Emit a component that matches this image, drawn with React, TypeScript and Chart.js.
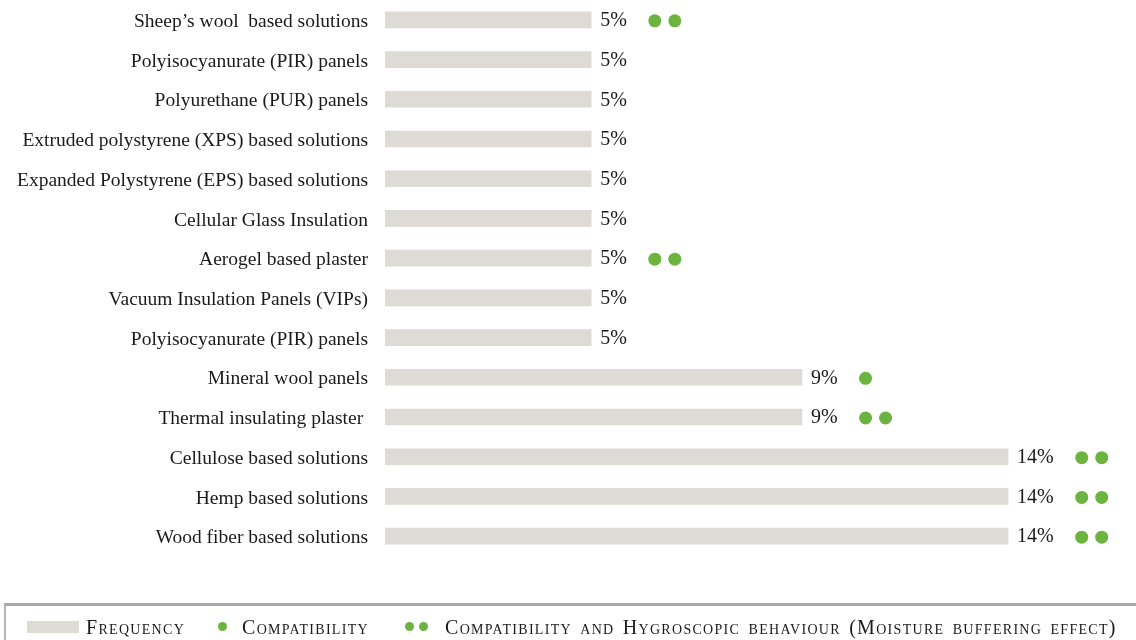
import React, { useEffect, useRef } from "react";
import { Chart, registerables } from "chart.js";

Chart.register(...registerables);

const categories = [
  "Sheep’s wool  based solutions",
  "Polyisocyanurate (PIR) panels",
  "Polyurethane (PUR) panels",
  "Extruded polystyrene (XPS) based solutions",
  "Expanded Polystyrene (EPS) based solutions",
  "Cellular Glass Insulation",
  "Aerogel based plaster",
  "Vacuum Insulation Panels (VIPs)",
  "Polyisocyanurate (PIR) panels",
  "Mineral wool panels",
  "Thermal insulating plaster ",
  "Cellulose based solutions",
  "Hemp based solutions",
  "Wood fiber based solutions",
];

const frequency = [4.5, 4.5, 4.5, 4.5, 4.5, 4.5, 4.5, 4.5, 4.5, 9.1, 9.1, 13.6, 13.6, 13.6];
const percentLabels = ["5%", "5%", "5%", "5%", "5%", "5%", "5%", "5%", "5%", "9%", "9%", "14%", "14%", "14%"];
// 0 = none, 1 = compatibility, 2 = compatibility and hygroscopic behaviour
const compatDots = [2, 0, 0, 0, 0, 0, 2, 0, 0, 1, 2, 2, 2, 2];

const legendFrequency = "Frequency";
const legendCompat = "Compatibility";
const legendHygro = "Compatibility and Hygroscopic behaviour (Moisture buffering effect)";

const BAR_COLOR = "#dedad5";
const DOT_COLOR = "#6cb33f";
const TEXT_COLOR = "#1a1a1a";
const SERIF = "'Liberation Serif', 'Times New Roman', serif";

const valuePlugin = {
  id: "valueDots",
  afterDatasetsDraw(chart: any) {
    const ctx = chart.ctx;
    const meta = chart.getDatasetMeta(0);
    ctx.save();
    ctx.font = `20px ${SERIF}`;
    ctx.textBaseline = "middle";
    ctx.textAlign = "left";
    meta.data.forEach((el: any, i: number) => {
      const x = el.x;
      const y = el.y;
      const label = percentLabels[i];
      ctx.fillStyle = TEXT_COLOR;
      ctx.fillText(label, x + 9, y + 1);
      const w = ctx.measureText(label).width;
      const n = compatDots[i];
      ctx.fillStyle = DOT_COLOR;
      for (let k = 0; k < n; k++) {
        ctx.beginPath();
        ctx.arc(x + 9 + w + 28 + k * 20, y + 1, 6.5, 0, Math.PI * 2);
        ctx.fill();
      }
    });
    ctx.restore();
  },
};

export default function App() {
  const ref = useRef<HTMLCanvasElement | null>(null);

  useEffect(() => {
    if (!ref.current) return;
    const chart = new Chart(ref.current, {
      type: "bar",
      data: {
        labels: categories,
        datasets: [
          {
            label: legendFrequency,
            data: frequency,
            backgroundColor: BAR_COLOR,
            borderWidth: 0,
            barThickness: 16,
          },
        ],
      },
      options: {
        indexAxis: "y",
        responsive: false,
        animation: false,
        layout: { padding: { left: 0, right: 18, top: 0, bottom: 84 } },
        plugins: {
          legend: { display: false },
          tooltip: { enabled: false },
        },
        scales: {
          x: { display: false, min: 0, max: 16 },
          y: {
            grid: { display: false, drawTicks: false },
            border: { display: false },
            ticks: {
              color: TEXT_COLOR,
              padding: 17,
              labelOffset: 2,
              font: { family: SERIF, size: 19.5 },
            },
            afterFit: (s: any) => {
              s.width = 385;
              s.paddingTop = 0;
              s.paddingBottom = 0;
            },
          },
        },
      } as any,
      plugins: [valuePlugin],
    });
    return () => chart.destroy();
  }, []);

  const textStyle: React.CSSProperties = {
    position: "absolute",
    top: 9,
    fontFamily: SERIF,
    fontSize: 20,
    fontVariant: "small-caps",
    letterSpacing: "1.3px",
    color: TEXT_COLOR,
    lineHeight: "24px",
    whiteSpace: "nowrap",
  };
  const dot = (left: number): React.CSSProperties => ({
    position: "absolute",
    left: left - 4.5,
    top: 16,
    width: 9,
    height: 9,
    borderRadius: "50%",
    background: DOT_COLOR,
  });

  return (
    <div style={{ position: "fixed", left: 0, top: 0, width: 1136, height: 640, background: "#fff", overflow: "hidden" }}>
      <canvas ref={ref} width={1136} height={640} style={{ position: "absolute", left: 0, top: 0 }} />
      <div
        style={{
          position: "absolute",
          left: 4,
          top: 603,
          width: 1140,
          height: 40,
          borderTop: "3px solid #a9a9a9",
          borderLeft: "2px solid #b5b5b5",
          boxSizing: "border-box",
        }}
      >
        <div style={{ position: "absolute", left: 21, top: 15, width: 52, height: 12, background: BAR_COLOR }} />
        <span style={{ ...textStyle, left: 80 }}>{legendFrequency}</span>
        <div style={dot(216)} />
        <span style={{ ...textStyle, left: 236 }}>{legendCompat}</span>
        <div style={dot(403)} />
        <div style={dot(417)} />
        <span style={{ ...textStyle, left: 439, wordSpacing: "2px" }}>{legendHygro}</span>
      </div>
    </div>
  );
}
